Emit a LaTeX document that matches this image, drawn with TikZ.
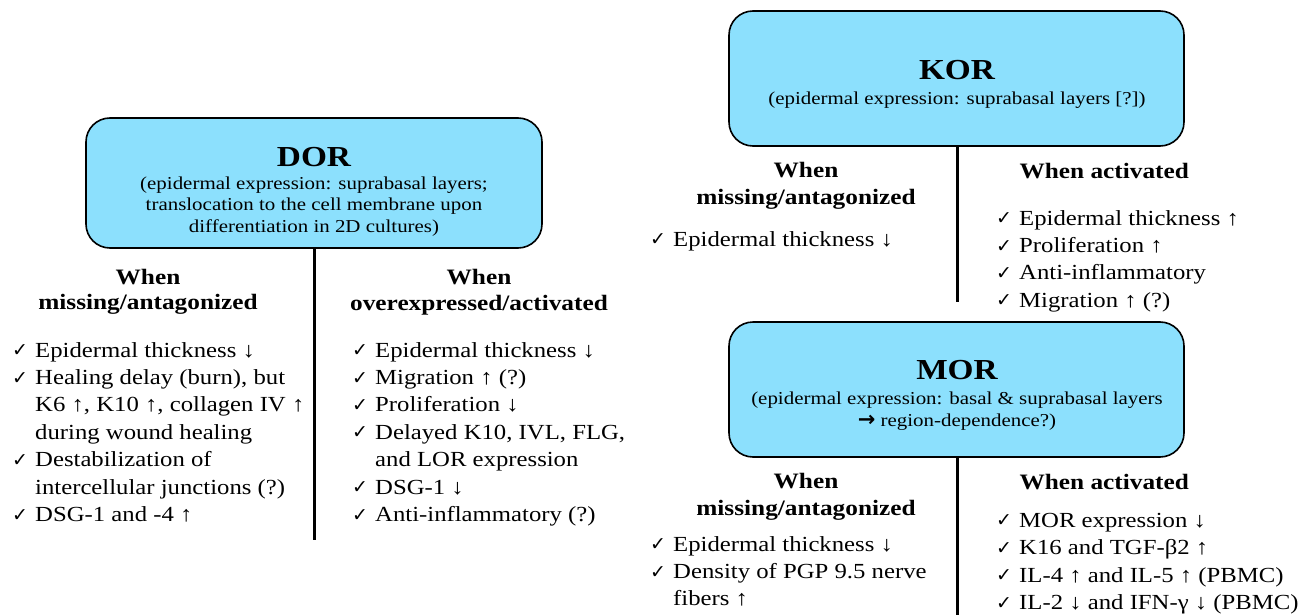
\documentclass[tikz,border=0pt]{standalone}
\usepackage{amssymb}
\usepackage{fontspec}
\setmainfont[FakeStretch=1.15]{Liberation Serif}
\newfontfamily\symf{DejaVu Sans}
\newcommand{\ck}{\makebox[23pt][l]{\raisebox{0.5pt}{\symf\fontsize{19}{19}\selectfont ✓}}}
\newcommand{\ind}{\hspace*{23pt}}
\newcommand{\up}{↑}
\newcommand{\dn}{↓}
\definecolor{boxblue}{RGB}{140,224,253}
\begin{document}
\begin{tikzpicture}[x=1pt,y=-1pt,
  recbox/.style={draw=black,line width=1.6pt,fill=boxblue,rounded corners=24pt,inner sep=0pt},
  title/.style={font=\fontsize{29}{32}\selectfont\bfseries},
  sub/.style={font=\fontsize{18.2}{21.5}\selectfont,align=center},
  head/.style={font=\fontsize{22}{25.5}\selectfont\bfseries,align=center},
  lst/.style={font=\fontsize{21.5}{27.4}\selectfont,align=left,anchor=north west,inner sep=0pt},
  stem/.style={line width=3pt}]
\useasboundingbox (0,0) rectangle (1300,615);
% DOR
\path[recbox] (86,118) rectangle (542,248);
\node[title] (dort) at (314,157) {DOR};
\node[sub] (dors) at (314,206.5) {(epidermal expression: suprabasal layers;\\translocation to the cell membrane upon\\differentiation in 2D cultures)};
\coordinate (dorb) at (314,248);
\coordinate (dore) at (314,540);
\draw[stem] (dorb) -- (dore);
\node[head] (dorlh) at (148,292) {When\\missing/antagonized};
\node[head] (dorrh) at (479,292) {When\\overexpressed/activated};
\node[lst] (dorl) at (12,342) {\ck Epidermal thickness \dn\\
\ck Healing delay (burn), but\\
\ind K6 \up, K10 \up, collagen IV \up\\
\ind during wound healing\\
\ck Destabilization of\\
\ind intercellular junctions (?)\\
\ck DSG-1 and -4 \up};
\node[lst] (dorr) at (352,342) {\ck Epidermal thickness \dn\\
\ck Migration \up{} (?)\\
\ck Proliferation \dn\\
\ck Delayed K10, IVL, FLG,\\
\ind and LOR expression\\
\ck DSG-1 \dn\\
\ck Anti-inflammatory (?)};
% KOR
\path[recbox] (729,11) rectangle (1184,146);
\node[title] (kort) at (957,70) {KOR};
\node[sub] (kors) at (957,100) {(epidermal expression: suprabasal layers [?])};
\coordinate (korb) at (957,146);
\coordinate (kore) at (957,302);
\draw[stem] (korb) -- (kore);
\node[head,font=\fontsize{22}{27}\selectfont\bfseries] (korlh) at (806,185.5) {When\\missing/antagonized};
\node[head,anchor=west] (korrh) at (1016,171) {When activated};
\node[lst] (korl) at (650,231) {\ck Epidermal thickness \dn};
\node[lst] (korr) at (996,210) {\ck Epidermal thickness \up\\
\ck Proliferation \up\\
\ck Anti-inflammatory\\
\ck Migration \up{} (?)};
% MOR
\path[recbox] (729,322) rectangle (1184,457);
\node[title] (mort) at (957,370) {MOR};
\node[sub] (mors) at (957,411) {(epidermal expression: basal \& suprabasal layers\\{\symf\bfseries\fontsize{21}{16}\selectfont →} region-dependence?)};
\coordinate (morb) at (957,457);
\coordinate (more) at (957,615);
\draw[stem] (morb) -- (more);
\node[head,font=\fontsize{22}{27}\selectfont\bfseries] (morlh) at (806,496.5) {When\\missing/antagonized};
\node[head,anchor=west] (morrh) at (1016,482) {When activated};
\node[lst] (morl) at (650,536) {\ck Epidermal thickness \dn\\
\ck Density of PGP 9.5 nerve\\
\ind fibers \up};
\node[lst] (morr) at (996,513) {\ck MOR expression \dn\\
\ck K16 and TGF-β2 \up\\
\ck IL-4 \up{} and IL-5 \up{} (PBMC)\\
\ck IL-2 \dn{} and IFN-γ \dn{} (PBMC)};
\end{tikzpicture}
\end{document}
